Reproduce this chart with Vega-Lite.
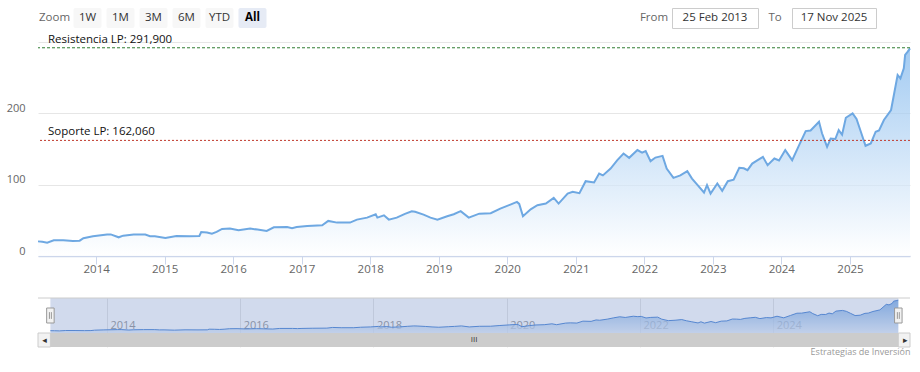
{
  "$schema": "https://vega.github.io/schema/vega-lite/v6.json",
  "autosize": {"type": "pad"},
  "padding": {"left": 6, "top": 7, "right": 0, "bottom": 0},
  "background": "white",
  "config": {
    "font": "Open Sans",
    "view": {"stroke": null}
  },
  "datasets": {
    "prices": [
      {"date": "2013-02-25", "value": 20.5}, {"date": "2013-03-20", "value": 20}, {"date": "2013-04-15", "value": 18.7},
      {"date": "2013-05-20", "value": 22}, {"date": "2013-07-10", "value": 22}, {"date": "2013-08-30", "value": 21},
      {"date": "2013-10-05", "value": 21.5}, {"date": "2013-10-25", "value": 25}, {"date": "2013-12-15", "value": 27.6},
      {"date": "2014-02-28", "value": 30}, {"date": "2014-03-20", "value": 30.3}, {"date": "2014-05-01", "value": 26.2},
      {"date": "2014-05-25", "value": 28.5}, {"date": "2014-07-20", "value": 30}, {"date": "2014-09-20", "value": 30},
      {"date": "2014-10-15", "value": 27.6}, {"date": "2014-11-10", "value": 27.8}, {"date": "2015-01-05", "value": 25.3},
      {"date": "2015-03-05", "value": 28.1}, {"date": "2015-05-15", "value": 27.6}, {"date": "2015-07-05", "value": 28},
      {"date": "2015-07-15", "value": 33.7}, {"date": "2015-08-15", "value": 33}, {"date": "2015-09-10", "value": 31.3},
      {"date": "2015-10-05", "value": 33.7}, {"date": "2015-11-03", "value": 37.9}, {"date": "2015-12-15", "value": 38.5},
      {"date": "2016-01-30", "value": 36}, {"date": "2016-04-01", "value": 38.4}, {"date": "2016-05-10", "value": 37},
      {"date": "2016-06-28", "value": 35.1}, {"date": "2016-08-05", "value": 40.3}, {"date": "2016-10-15", "value": 40.5},
      {"date": "2016-11-10", "value": 39}, {"date": "2016-12-05", "value": 40.5}, {"date": "2017-01-30", "value": 42.1},
      {"date": "2017-04-20", "value": 43.1}, {"date": "2017-05-22", "value": 49.2}, {"date": "2017-07-08", "value": 46.8},
      {"date": "2017-09-15", "value": 46.8}, {"date": "2017-10-22", "value": 51}, {"date": "2017-12-15", "value": 53.8},
      {"date": "2018-01-30", "value": 58.6}, {"date": "2018-02-08", "value": 53.8}, {"date": "2018-03-15", "value": 57.1},
      {"date": "2018-04-10", "value": 51}, {"date": "2018-05-22", "value": 53.8}, {"date": "2018-07-05", "value": 59},
      {"date": "2018-08-10", "value": 62.8}, {"date": "2018-08-28", "value": 62}, {"date": "2018-10-12", "value": 58},
      {"date": "2018-11-18", "value": 53.8}, {"date": "2018-12-25", "value": 51}, {"date": "2019-02-15", "value": 55.7},
      {"date": "2019-03-22", "value": 58.6}, {"date": "2019-04-28", "value": 62.8}, {"date": "2019-06-10", "value": 53.8},
      {"date": "2019-08-05", "value": 59.4}, {"date": "2019-10-05", "value": 60}, {"date": "2019-11-25", "value": 66.4},
      {"date": "2020-01-18", "value": 72.1}, {"date": "2020-02-22", "value": 75.8}, {"date": "2020-03-05", "value": 73},
      {"date": "2020-03-25", "value": 55.7}, {"date": "2020-05-05", "value": 65.5}, {"date": "2020-06-10", "value": 71.2},
      {"date": "2020-07-25", "value": 73.5}, {"date": "2020-09-05", "value": 81.5}, {"date": "2020-10-01", "value": 73.5},
      {"date": "2020-11-18", "value": 87.5}, {"date": "2020-12-15", "value": 89.9}, {"date": "2021-01-20", "value": 88},
      {"date": "2021-02-22", "value": 104.9}, {"date": "2021-04-08", "value": 103}, {"date": "2021-05-05", "value": 115.6},
      {"date": "2021-05-25", "value": 113}, {"date": "2021-07-05", "value": 122.6}, {"date": "2021-08-10", "value": 134.4},
      {"date": "2021-09-12", "value": 143.7}, {"date": "2021-10-12", "value": 137.6}, {"date": "2021-11-25", "value": 148.5},
      {"date": "2021-12-20", "value": 145}, {"date": "2022-01-08", "value": 147}, {"date": "2022-02-03", "value": 133},
      {"date": "2022-03-01", "value": 138}, {"date": "2022-04-08", "value": 140.4}, {"date": "2022-04-30", "value": 122.6},
      {"date": "2022-06-05", "value": 109.6}, {"date": "2022-07-12", "value": 113}, {"date": "2022-08-18", "value": 119},
      {"date": "2022-09-12", "value": 108.6}, {"date": "2022-10-12", "value": 99.3}, {"date": "2022-11-15", "value": 89},
      {"date": "2022-12-01", "value": 99.3}, {"date": "2022-12-20", "value": 87.5}, {"date": "2023-01-25", "value": 101.6},
      {"date": "2023-02-20", "value": 91.3}, {"date": "2023-03-22", "value": 104.9}, {"date": "2023-04-22", "value": 107},
      {"date": "2023-05-22", "value": 123.6}, {"date": "2023-06-15", "value": 123}, {"date": "2023-07-05", "value": 120.3},
      {"date": "2023-07-30", "value": 129.6}, {"date": "2023-08-28", "value": 134.4}, {"date": "2023-09-25", "value": 139},
      {"date": "2023-10-20", "value": 127.4}, {"date": "2023-11-25", "value": 136.7}, {"date": "2023-12-20", "value": 134},
      {"date": "2024-01-22", "value": 148.5}, {"date": "2024-02-28", "value": 134.4}, {"date": "2024-04-05", "value": 155.5},
      {"date": "2024-05-10", "value": 175.1}, {"date": "2024-06-05", "value": 176}, {"date": "2024-07-20", "value": 188.2},
      {"date": "2024-08-05", "value": 172}, {"date": "2024-09-01", "value": 153.1}, {"date": "2024-09-20", "value": 164.7},
      {"date": "2024-10-15", "value": 164}, {"date": "2024-11-02", "value": 176.5}, {"date": "2024-11-20", "value": 170},
      {"date": "2024-12-10", "value": 193.8}, {"date": "2025-01-15", "value": 199.9}, {"date": "2025-02-05", "value": 192},
      {"date": "2025-02-28", "value": 174.2}, {"date": "2025-03-25", "value": 154.5}, {"date": "2025-04-22", "value": 157.7},
      {"date": "2025-05-18", "value": 174.2}, {"date": "2025-06-05", "value": 176}, {"date": "2025-07-01", "value": 190.6},
      {"date": "2025-08-08", "value": 204.6}, {"date": "2025-09-12", "value": 253.8}, {"date": "2025-09-27", "value": 249},
      {"date": "2025-10-15", "value": 263}, {"date": "2025-10-22", "value": 281.9}, {"date": "2025-11-05", "value": 286.5},
      {"date": "2025-11-17", "value": 291}
    ],
    "levels": [
      {"level": "Resistencia LP", "value": 291.9, "label": "Resistencia LP: 291,900"},
      {"level": "Soporte LP", "value": 162.06, "label": "Soporte LP: 162,060"}
    ],
    "range": [{"start": "2013-02-25", "end": "2025-11-17"}],
    "buttons": [
      {"label": "Zoom", "state": "caption"},
      {"label": "1W", "state": "idle"},
      {"label": "1M", "state": "idle"},
      {"label": "3M", "state": "idle"},
      {"label": "6M", "state": "idle"},
      {"label": "YTD", "state": "idle"},
      {"label": "All", "state": "selected"}
    ]
  },
  "spacing": 4,
  "vconcat": [
    {
      "spacing": 2,
      "hconcat": [
        {
          "width": 599,
          "height": 20,
          "data": {"name": "buttons"},
          "encoding": {
            "x": {
              "field": "label", "type": "nominal", "axis": null,
              "scale": {"domain": ["Zoom", "1W", "1M", "3M", "6M", "YTD", "All"], "range": [0, 231], "paddingInner": 0.15, "paddingOuter": 0.075}
            }
          },
          "resolve": {"scale": {"color": "independent"}},
          "layer": [
            {
              "mark": {"type": "rect", "cornerRadius": 2},
              "encoding": {
                "color": {"field": "state", "type": "nominal", "legend": null,
                  "scale": {"domain": ["caption", "idle", "selected"], "range": ["#ffffff", "#f7f7f7", "#e6ebf5"]}}
              }
            },
            {
              "transform": [{"filter": "datum.state != 'selected'"}],
              "mark": {"type": "text", "fontSize": 11.5},
              "encoding": {
                "text": {"field": "label"},
                "color": {"field": "state", "type": "nominal", "legend": null,
                  "scale": {"domain": ["caption", "idle"], "range": ["#666666", "#333333"]}}
              }
            },
            {
              "transform": [{"filter": "datum.state == 'selected'"}],
              "mark": {"type": "text", "fontSize": 11.5, "fontWeight": "bold", "color": "#000000"},
              "encoding": {"text": {"field": "label"}}
            }
          ]
        },
        {
          "width": 30, "height": 20,
          "data": {"values": [{"caption": "From"}]},
          "mark": {"type": "text", "fontSize": 11.5, "color": "#666666"},
          "encoding": {"text": {"field": "caption"}}
        },
        {
          "width": 86, "height": 20,
          "view": {"stroke": "#cccccc", "fill": "#ffffff"},
          "data": {"name": "range"},
          "mark": {"type": "text", "fontSize": 11.5, "color": "#333333"},
          "encoding": {"text": {"field": "start", "type": "temporal", "timeUnit": "utcyearmonthdate", "format": "%d %b %Y"}}
        },
        {
          "width": 28, "height": 20,
          "data": {"values": [{"caption": "To"}]},
          "mark": {"type": "text", "fontSize": 11.5, "color": "#666666"},
          "encoding": {"text": {"field": "caption"}}
        },
        {
          "width": 84, "height": 20,
          "view": {"stroke": "#cccccc", "fill": "#ffffff"},
          "data": {"name": "range"},
          "mark": {"type": "text", "fontSize": 11.5, "color": "#333333"},
          "encoding": {"text": {"field": "end", "type": "temporal", "timeUnit": "utcyearmonthdate", "format": "%d %b %Y"}}
        }
      ]
    },
    {
      "spacing": 22,
      "vconcat": [
        {
          "width": 872,
          "height": 214,
          "layer": [
            {
              "data": {"name": "prices"},
              "mark": {
                "type": "area",
                "line": {"color": "#6ea8e2", "strokeWidth": 2},
                "color": {"x1": 0, "y1": 0, "x2": 0, "y2": 1, "gradient": "linear",
                  "stops": [{"offset": 0, "color": "#7cb5ec"}, {"offset": 1, "color": "#ffffff"}]}
              },
              "encoding": {
                "x": {
                  "field": "date", "type": "temporal",
                  "scale": {"type": "utc", "nice": false,
                    "domain": [{"year": 2013, "month": 2, "date": 25, "utc": true}, {"year": 2025, "month": 11, "date": 17, "utc": true}]},
                  "axis": {
                    "title": null, "format": "%Y", "grid": false,
                    "values": [
                      {"year": 2014, "month": 1, "date": 1, "utc": true}, {"year": 2015, "month": 1, "date": 1, "utc": true},
                      {"year": 2016, "month": 1, "date": 1, "utc": true}, {"year": 2017, "month": 1, "date": 1, "utc": true},
                      {"year": 2018, "month": 1, "date": 1, "utc": true}, {"year": 2019, "month": 1, "date": 1, "utc": true},
                      {"year": 2020, "month": 1, "date": 1, "utc": true}, {"year": 2021, "month": 1, "date": 1, "utc": true},
                      {"year": 2022, "month": 1, "date": 1, "utc": true}, {"year": 2023, "month": 1, "date": 1, "utc": true},
                      {"year": 2024, "month": 1, "date": 1, "utc": true}, {"year": 2025, "month": 1, "date": 1, "utc": true}
                    ],
                    "domainColor": "#ccd6eb", "domainWidth": 1.5, "tickColor": "#ccd6eb", "tickSize": 8,
                    "labelColor": "#666666", "labelFontSize": 11.5, "labelPadding": -1, "labelFlush": false, "labelOverlap": false
                  }
                },
                "y": {
                  "field": "value", "type": "quantitative",
                  "scale": {"domain": [0, 300], "nice": false},
                  "axis": {
                    "title": null, "values": [0, 100, 200, 300],
                    "labelExpr": "datum.value >= 300 ? '' : datum.label",
                    "grid": true, "gridColor": "#e6e6e6", "domain": false, "ticks": false,
                    "labelColor": "#666666", "labelFontSize": 11, "labelPadding": 13, "labelOffset": -5,
                    "labelBaseline": "middle", "minExtent": 31, "maxExtent": 31
                  }
                }
              }
            },
            {
              "data": {"name": "levels"},
              "mark": {"type": "rule", "strokeWidth": 1},
              "encoding": {
                "y": {"field": "value", "type": "quantitative"},
                "color": {"field": "level", "type": "nominal", "legend": null,
                  "scale": {"domain": ["Resistencia LP", "Soporte LP"], "range": ["#2f7d32", "#c0392b"]}},
                "strokeDash": {"field": "level", "type": "nominal", "legend": null,
                  "scale": {"domain": ["Resistencia LP", "Soporte LP"], "range": [[3, 2], [2, 2]]}}
              }
            },
            {
              "data": {"name": "levels"},
              "mark": {"type": "text", "align": "left", "baseline": "alphabetic", "dx": 10, "dy": -5, "fontSize": 11.5, "color": "#111111"},
              "encoding": {
                "x": {"datum": {"year": 2013, "month": 2, "date": 25, "utc": true}, "type": "temporal"},
                "y": {"field": "value", "type": "quantitative"},
                "text": {"field": "label"}
              }
            }
          ]
        },
        {
          "width": 872,
          "height": 49,
          "title": {"text": "Estrategias de Inversión", "orient": "bottom", "anchor": "end", "fontSize": 9, "fontWeight": "normal", "color": "#999999", "offset": 0},
          "layer": [
            {
              "data": {"name": "prices"},
              "mark": {
                "type": "area",
                "line": {"color": "#4f88d6", "strokeWidth": 1},
                "color": {"x1": 0, "y1": 0, "x2": 0, "y2": 1, "gradient": "linear",
                  "stops": [{"offset": 0, "color": "#5e9be0"}, {"offset": 1, "color": "#dfeaf8"}]}
              },
              "encoding": {
                "x": {
                  "field": "date", "type": "temporal",
                  "scale": {"type": "utc", "nice": false,
                    "domain": [{"year": 2012, "month": 12, "date": 19, "utc": true}, {"year": 2026, "month": 1, "date": 20, "utc": true}]},
                  "axis": {
                    "orient": "top", "title": null, "format": "%Y",
                    "values": [
                      {"year": 2014, "month": 1, "date": 1, "utc": true}, {"year": 2016, "month": 1, "date": 1, "utc": true},
                      {"year": 2018, "month": 1, "date": 1, "utc": true}, {"year": 2020, "month": 1, "date": 1, "utc": true},
                      {"year": 2022, "month": 1, "date": 1, "utc": true}, {"year": 2024, "month": 1, "date": 1, "utc": true}
                    ],
                    "grid": true, "gridColor": "#e6e6e6", "domain": false, "ticks": false,
                    "labelAlign": "left", "labelBaseline": "middle", "labelPadding": -27, "labelOffset": 3,
                    "labelColor": "#999999", "labelFontSize": 11, "labelFlush": false, "labelOverlap": false
                  }
                },
                "y": {
                  "field": "value", "type": "quantitative",
                  "scale": {"domain": [-124, 310], "nice": false, "zero": false},
                  "axis": {"title": null, "labels": false, "ticks": false, "domain": false, "grid": false, "minExtent": 31, "maxExtent": 31}
                }
              }
            },
            {
              "data": {"name": "range"},
              "mark": {"type": "rect", "color": "#6685c2", "opacity": 0.3},
              "encoding": {
                "x": {"field": "start", "type": "temporal"},
                "x2": {"field": "end"},
                "y": {"datum": 310, "type": "quantitative"},
                "y2": {"datum": 0}
              }
            },
            {
              "data": {"name": "range"},
              "mark": {"type": "rule", "color": "#cccccc", "strokeWidth": 1},
              "encoding": {"y": {"datum": 310, "type": "quantitative"}}
            },
            {
              "data": {"name": "range"},
              "mark": {"type": "rect", "color": "#cccccc"},
              "encoding": {
                "x": {"field": "start", "type": "temporal"},
                "x2": {"field": "end"},
                "y": {"datum": 0, "type": "quantitative"},
                "y2": {"datum": -124}
              }
            },
            {
              "data": {"name": "range"},
              "mark": {"type": "rect", "fill": "#f2f2f2", "stroke": "#cccccc", "strokeWidth": 1},
              "encoding": {
                "x": {"field": "start", "type": "temporal"},
                "x2": {"datum": {"year": 2012, "month": 12, "date": 19, "utc": true}},
                "y": {"datum": 0, "type": "quantitative"},
                "y2": {"datum": -124}
              }
            },
            {
              "data": {"name": "range"},
              "mark": {"type": "rect", "fill": "#f2f2f2", "stroke": "#cccccc", "strokeWidth": 1},
              "encoding": {
                "x": {"field": "end", "type": "temporal"},
                "x2": {"datum": {"year": 2026, "month": 1, "date": 20, "utc": true}},
                "y": {"datum": 0, "type": "quantitative"},
                "y2": {"datum": -124}
              }
            },
            {
              "data": {"name": "range"},
              "mark": {"type": "text", "text": "◂", "fontSize": 9, "color": "#333333", "dx": -6, "dy": 7, "baseline": "middle", "font": "DejaVu Sans"},
              "encoding": {"x": {"field": "start", "type": "temporal"}, "y": {"datum": 0, "type": "quantitative"}}
            },
            {
              "data": {"name": "range"},
              "mark": {"type": "text", "text": "▸", "fontSize": 9, "color": "#333333", "dx": 7, "dy": 7, "baseline": "middle", "font": "DejaVu Sans"},
              "encoding": {"x": {"field": "end", "type": "temporal"}, "y": {"datum": 0, "type": "quantitative"}}
            },
            {
              "data": {"name": "range"},
              "mark": {"type": "text", "text": "III", "fontSize": 8, "color": "#333333", "dy": 7, "baseline": "middle"},
              "encoding": {"y": {"datum": 0, "type": "quantitative"}}
            },
            {
              "data": {"name": "range"},
              "mark": {"type": "point", "shape": "M-0.5,-1H0.5V1H-0.5Z M-0.13,-0.45V0.45 M0.13,-0.45V0.45", "size": 225, "filled": false, "fill": "#f2f2f2", "stroke": "#999999", "strokeWidth": 1, "opacity": 1},
              "encoding": {"x": {"field": "start", "type": "temporal"}, "y": {"datum": 155, "type": "quantitative"}}
            },
            {
              "data": {"name": "range"},
              "mark": {"type": "point", "shape": "M-0.5,-1H0.5V1H-0.5Z M-0.13,-0.45V0.45 M0.13,-0.45V0.45", "size": 225, "filled": false, "fill": "#f2f2f2", "stroke": "#999999", "strokeWidth": 1, "opacity": 1},
              "encoding": {"x": {"field": "end", "type": "temporal"}, "y": {"datum": 155, "type": "quantitative"}}
            }
          ]
        }
      ]
    }
  ]
}
